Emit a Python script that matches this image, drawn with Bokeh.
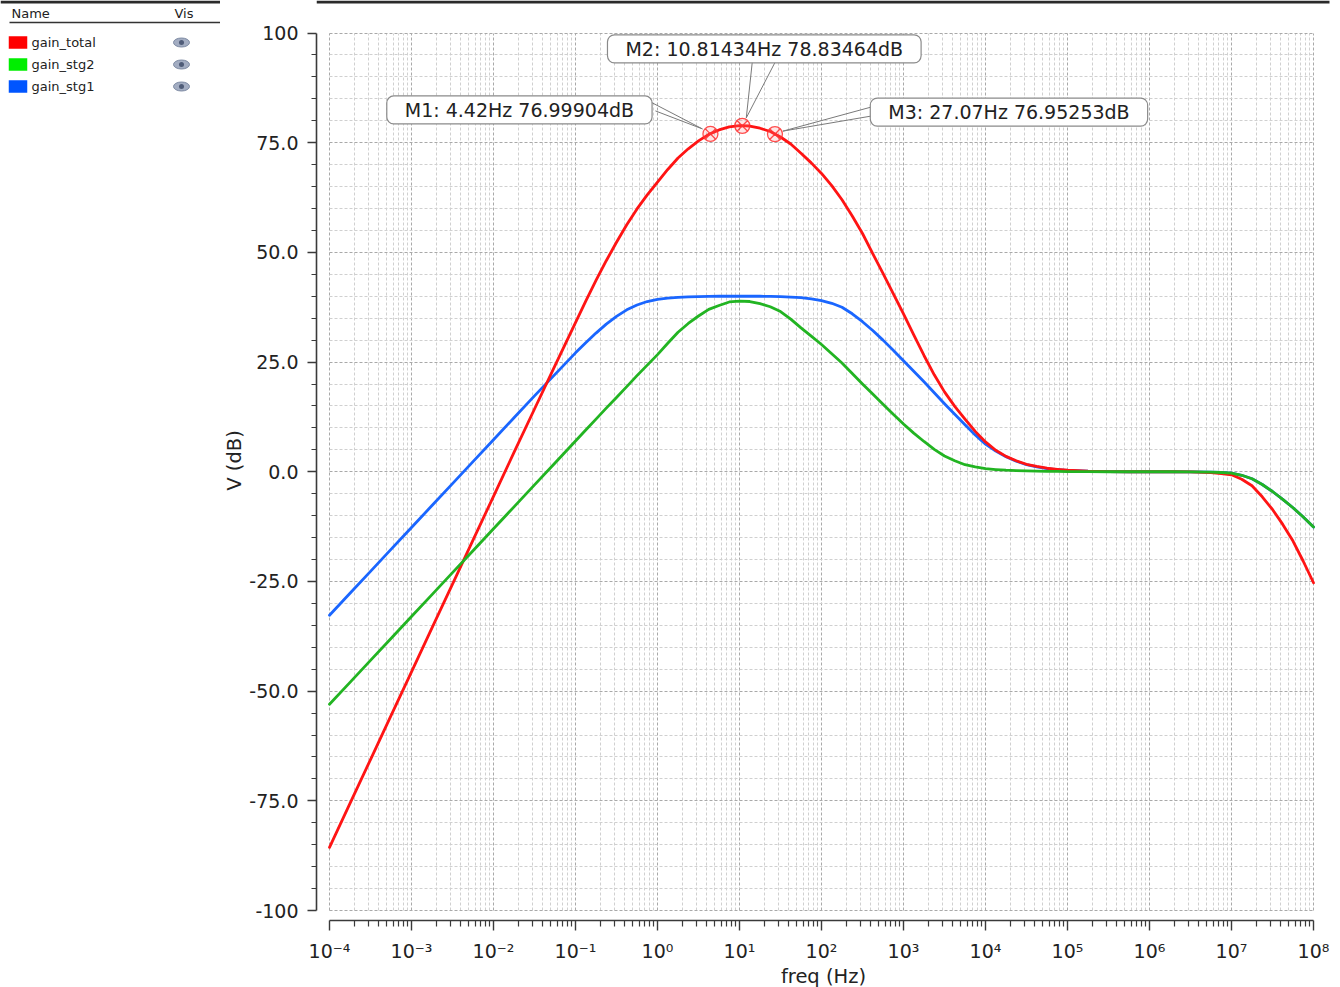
from bokeh.plotting import figure
from bokeh.models import Range1d, FixedTicker, CustomJSTickFormatter, Label, ColumnDataSource
from bokeh.layouts import row
from bokeh.embed import file_html
from bokeh.resources import INLINE
from bokeh.core.properties import value

# ---------------- data ----------------
log_freq = [-4.0, -3.75, -3.5, -3.25, -3.0, -2.75, -2.5, -2.25, -2.0, -1.75, -1.5, -1.25, -1.0,
            -0.875, -0.75, -0.625, -0.5, -0.375, -0.25, -0.125, 0.0,
            0.125, 0.25, 0.375, 0.5, 0.625, 0.75, 0.875, 1.0,
            1.125, 1.25, 1.375, 1.5, 1.625, 1.75, 1.875, 2.0,
            2.125, 2.25, 2.375, 2.5, 2.625, 2.75, 2.875, 3.0,
            3.125, 3.25, 3.375, 3.5, 3.625, 3.75, 3.875, 4.0,
            4.125, 4.25, 4.375, 4.5, 4.625, 4.75, 4.875, 5.0,
            5.25, 5.5, 5.75, 6.0, 6.25, 6.5, 6.75, 6.875, 7.0, 7.125, 7.25, 7.375, 7.5, 7.625, 7.75, 7.875, 8.0]

gain_total = [-85.6, -75.6, -65.6, -55.6, -45.6, -35.6, -25.6, -15.6, -5.6, 4.4, 14.3, 24.2, 34.0,
              38.9, 43.6, 48.1, 52.3, 56.3, 59.9, 63.1, 66.0,
              68.9, 71.5, 73.6, 75.4, 76.9, 77.9, 78.6, 78.9,
              78.8, 78.3, 77.55, 76.3, 74.7, 72.6, 70.4, 68.0,
              65.2, 62.0, 58.3, 54.3, 49.7, 45.2, 40.6, 36.0,
              31.2, 26.5, 22.1, 18.2, 14.9, 12.0, 9.2, 6.8,
              4.9, 3.5, 2.5, 1.7, 1.2, 0.8, 0.55, 0.35,
              0.14, 0.05, 0.0, 0.0, 0.0, -0.04, -0.2, -0.4, -0.7, -1.7, -3.2, -5.7, -8.6, -12.0, -15.8, -20.4, -25.3]

gain_stg2 = [-53.0, -48.0, -43.0, -38.0, -33.0, -28.0, -23.0, -18.0, -13.0, -8.0, -3.0, 2.0, 7.0,
             9.5, 12.0, 14.5, 16.9, 19.4, 21.9, 24.3, 26.7,
             29.3, 31.8, 33.8, 35.5, 37.0, 37.9, 38.7, 38.9,
             38.8, 38.3, 37.6, 36.5, 34.8, 32.8, 30.9, 29.0,
             26.9, 24.8, 22.4, 20.0, 17.7, 15.4, 13.1, 10.9,
             8.8, 6.9, 5.1, 3.6, 2.5, 1.6, 1.1, 0.7,
             0.5, 0.35, 0.27, 0.2, 0.14, 0.1, 0.07, 0.05,
             0.02, 0.0, 0.0, 0.0, 0.0, -0.02, -0.1, -0.17, -0.3, -0.8, -1.6, -2.9, -4.5, -6.3, -8.2, -10.3, -12.6]

gain_stg1 = [-32.7, -27.7, -22.7, -17.7, -12.7, -7.7, -2.7, 2.3, 7.3, 12.3, 17.3, 22.2, 27.1,
             29.4, 31.6, 33.65, 35.4, 36.9, 38.0, 38.8, 39.3,
             39.57, 39.75, 39.86, 39.9, 39.95, 40.0, 40.0, 40.0,
             40.0, 40.0, 39.95, 39.9, 39.8, 39.7, 39.4, 39.0,
             38.4, 37.5, 36.0, 34.2, 32.2, 30.0, 27.7, 25.3,
             22.9, 20.5, 18.0, 15.5, 13.1, 10.7, 8.4, 6.3,
             4.7, 3.4, 2.4, 1.6, 1.1, 0.7, 0.48, 0.3,
             0.12, 0.05, 0.0, 0.0, 0.0, -0.02, -0.1, -0.17, -0.3, -0.8, -1.6, -2.9, -4.5, -6.3, -8.2, -10.3, -12.6]

series_names = ["gain_total", "gain_stg2", "gain_stg1"]
legend_colors = ["#ff0000", "#00ee00", "#0055ff"]
line_colors = {"gain_total": "#ff1414", "gain_stg2": "#22b422", "gain_stg1": "#1a66ff"}

marker_names = ["M1", "M2", "M3"]
marker_freq = [4.42, 10.81434, 27.07]
marker_db = [76.99904, 78.83464, 76.95253]

x_tick_exponents = [-4, -3, -2, -1, 0, 1, 2, 3, 4, 5, 6, 7, 8]
x_tick_labels = ["10\u207b\u2074", "10\u207b\u00b3", "10\u207b\u00b2", "10\u207b\u00b9", "10\u2070",
                 "10\u00b9", "10\u00b2", "10\u00b3", "10\u2074", "10\u2075", "10\u2076", "10\u2077", "10\u2078"]
y_ticks = [-100, -75, -50, -25, 0, 25, 50, 75, 100]
y_tick_labels = ["-100", "-75.0", "-50.0", "-25.0", "0.0", "25.0", "50.0", "75.0", "100"]

FONT = "DejaVu Sans"

# ---------------- geometry ----------------
LEG_W = 220
H = 987
BL, BR, BT, BB = 96, 10, 0, 67
frame_w = 1340 - LEG_W - BL - BR
frame_h = H - BT - BB
X_MIN_E, X_MAX_E = x_tick_exponents[0], x_tick_exponents[-1]
Y_MIN, Y_MAX = y_ticks[0], y_ticks[-1]
PAD_L, PAD_R, PAD_T, PAD_B = 13, 17, 32.5, 10
px_dec = (frame_w - PAD_L - PAD_R) / (X_MAX_E - X_MIN_E)
px_db = (frame_h - PAD_T - PAD_B) / (Y_MAX - Y_MIN)
x_lo = 10 ** (X_MIN_E - PAD_L / px_dec)
x_hi = 10 ** (X_MAX_E + PAD_R / px_dec)
y_lo = Y_MIN - PAD_B / px_db
y_hi = Y_MAX + PAD_T / px_db

p = figure(frame_width=frame_w, frame_height=frame_h, x_axis_type="log",
           x_range=Range1d(x_lo, x_hi), y_range=Range1d(y_lo, y_hi),
           toolbar_location=None, output_backend="svg",
           min_border_left=BL, min_border_right=BR, min_border_top=BT, min_border_bottom=BB)
p.outline_line_color = None
p.background_fill_color = "white"
p.border_fill_color = "white"

x_major = [10.0 ** e for e in x_tick_exponents]
x_minor = [k * 10.0 ** n for n in x_tick_exponents[:-1] for k in range(2, 10)]
y_minor = [v for v in range(Y_MIN, Y_MAX + 1, 5) if v % 25 != 0]
xt = FixedTicker(ticks=x_major, minor_ticks=x_minor)
yt = FixedTicker(ticks=y_ticks, minor_ticks=y_minor)

p.xaxis.ticker = xt
p.yaxis.ticker = yt
p.xaxis.formatter = CustomJSTickFormatter(args=dict(xlabels=x_tick_labels, e0=X_MIN_E),
                                          code="return xlabels[Math.round(Math.log10(tick)) - e0];")
p.yaxis.formatter = CustomJSTickFormatter(args=dict(ylabels=y_tick_labels, yvals=y_ticks),
    code="""let b = 0; for (let i = 0; i < yvals.length; i++) { if (Math.abs(yvals[i]-tick) < Math.abs(yvals[b]-tick)) b = i; } return ylabels[b];""")
p.xaxis.bounds = (x_major[0], x_major[-1])
p.yaxis.bounds = (Y_MIN, Y_MAX)

for ax in (p.xaxis[0], p.yaxis[0]):
    ax.axis_line_color = "#3a3a3a"
    ax.axis_line_width = 1.6
    ax.major_tick_line_color = "#3a3a3a"
    ax.minor_tick_line_color = "#3a3a3a"
    ax.major_tick_line_width = 1.4
    ax.minor_tick_line_width = 1.2
    ax.major_tick_in = 0
    ax.minor_tick_in = 0
    ax.major_label_text_font = FONT
    ax.major_label_text_font_size = "19px"
    ax.major_label_text_color = "#222222"
    ax.axis_label_text_font = FONT
    ax.axis_label_text_font_size = "19.5px"
    ax.axis_label_text_font_style = "normal"
    ax.axis_label_text_color = "#222222"

p.yaxis.major_tick_out = 9
p.yaxis.minor_tick_out = 5
p.yaxis.major_label_standoff = 9
p.yaxis.axis_label = "V (dB)"
p.yaxis.axis_label_standoff = 0

p.xaxis.major_tick_out = 10
p.xaxis.minor_tick_out = 6
p.xaxis.major_label_standoff = 9
p.xaxis.axis_label = "freq (Hz)"
p.xaxis.axis_label_standoff = 0

p.xgrid.ticker = xt
p.ygrid.ticker = yt
for g in (p.xgrid[0], p.ygrid[0]):
    g.grid_line_color = "#a9a9a9"
    g.grid_line_dash = "3 2"
    g.grid_line_width = 1
    g.minor_grid_line_color = "#d0d0d0"
    g.minor_grid_line_dash = "3 2"
    g.minor_grid_line_width = 1
p.xgrid.bounds = (x_major[0], x_major[-1])
p.ygrid.bounds = (Y_MIN, Y_MAX)
try:
    p.xgrid.cross_bounds = (Y_MIN, Y_MAX)
    p.ygrid.cross_bounds = (x_major[0], x_major[-1])
except Exception:
    pass

# top border line (decoration)
top_y = y_hi - 1.5 / px_db
p.segment(x0=[x_lo], y0=[top_y], x1=[10 ** (X_MAX_E + (PAD_R - 1) / px_dec)], y1=[top_y],
          line_color="#2a2a2a", line_width=3)

# ---------------- curves ----------------
src = ColumnDataSource(dict(freq=[10.0 ** e for e in log_freq],
                            gain_total=gain_total, gain_stg2=gain_stg2, gain_stg1=gain_stg1))
for name in ["gain_stg1", "gain_total", "gain_stg2"]:
    p.line("freq", name, source=src, line_color=line_colors[name], line_width=2.8,
           line_join="round", line_cap="round")

# ---------------- markers with callouts ----------------
# screen offsets (right, up) relative to the marker: box centre, two callout starts, callout end
marker_layout = {
    "M1": dict(box=(-191, 24), a=(-60, 32), b=(-55, 23), end=(-8, 5)),
    "M2": dict(box=(22, 77), a=(10, 64), b=(33, 64), end=(4, 8)),
    "M3": dict(box=(234, 22), a=(96, 27), b=(96, 18), end=(8, 3)),
}

def shifted(f, db, d):
    return f * 10 ** (d[0] / px_dec), db + d[1] / px_db

x0s, y0s, x1s, y1s = [], [], [], []
for nm, f, db in zip(marker_names, marker_freq, marker_db):
    lay = marker_layout[nm]
    ex, ey = shifted(f, db, lay["end"])
    for k in ("a", "b"):
        sx, sy = shifted(f, db, lay[k])
        x0s.append(sx); y0s.append(sy); x1s.append(ex); y1s.append(ey)
p.segment(x0=x0s, y0=y0s, x1=x1s, y1=y1s, line_color="#7a7a7a", line_width=1)

p.scatter(marker_freq, marker_db, marker="circle_x", size=15, line_color="#ff3030",
          line_alpha=0.85, fill_color="#ff8080", fill_alpha=0.2, line_width=1.3)

for nm, f, db in zip(marker_names, marker_freq, marker_db):
    bx, by = marker_layout[nm]["box"]
    lab = Label(x=f, y=db, x_offset=bx, y_offset=by,
                text=f"{nm}: {f}Hz {db}dB",
                text_align="center", text_baseline="middle",
                text_font=FONT, text_font_size="19px", text_color="#222222",
                background_fill_color="white", background_fill_alpha=1.0,
                border_line_color="#8a8a8a", border_line_width=1.2,
                border_radius=7, padding=(18, 3))
    p.add_layout(lab)

# ---------------- legend panel ----------------
lg = figure(width=LEG_W, frame_width=LEG_W, frame_height=frame_h,
            x_range=Range1d(0, LEG_W), y_range=Range1d(frame_h, 0),
            toolbar_location=None, output_backend="svg",
            min_border_left=0, min_border_right=0, min_border_top=BT, min_border_bottom=BB)
lg.axis.visible = False
lg.grid.visible = False
lg.outline_line_color = None
lg.background_fill_color = "white"
lg.border_fill_color = "white"

lg.segment(x0=[0], y0=[1.5], x1=[LEG_W], y1=[1.5], line_color="#2a2a2a", line_width=3)
lg.text(x=[11, 174], y=[13, 13], text=["Name", "Vis"], text_font=value(FONT),
        text_font_size="13px", text_baseline="middle", text_color="#222222")
lg.segment(x0=[9], y0=[22], x1=[LEG_W], y1=[22], line_color="#333333", line_width=1.5)

rows_y = [42, 64, 86]
lg.rect(x=[17.5] * 3, y=rows_y, width=18.5, height=12.5, fill_color=legend_colors, line_color=None)
lg.text(x=[31] * 3, y=rows_y, text=series_names, text_font=value(FONT), text_font_size="13px",
        text_baseline="middle", text_color="#222222")
lg.ellipse(x=[181] * 3, y=rows_y, width=16, height=9, fill_color="#a3adc2",
           line_color="#7d8aa3", line_width=1)
lg.scatter(x=[181] * 3, y=rows_y, size=5, marker="circle", fill_color="#4f5c78", line_color=None)

layout = row(lg, p, spacing=0)
open("out.html", "w").write(file_html(layout, INLINE))
